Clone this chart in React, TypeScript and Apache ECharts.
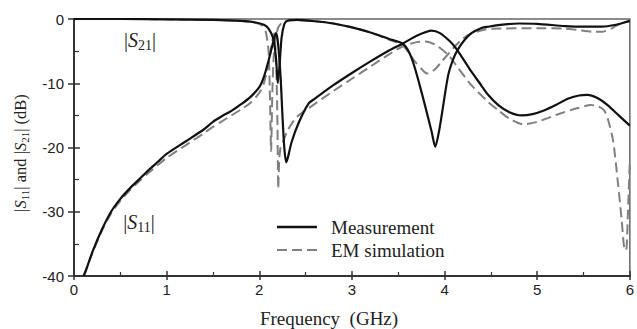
import React, { useEffect, useRef } from "react";
import * as echarts from "echarts";

// Frequency (GHz) and magnitude (dB)
const measS11Freq = [0.1, 0.12, 0.2, 0.3, 0.4, 0.5, 0.6, 0.7, 0.8, 0.9, 1.0, 1.2, 1.4, 1.5, 1.6, 1.7, 1.8, 1.9, 2.0, 2.05, 2.1, 2.15, 2.18, 2.2, 2.23, 2.25, 2.27, 2.29, 2.31, 2.35, 2.43, 2.53, 2.6, 2.8, 3.0, 3.2, 3.4, 3.55, 3.7, 3.86, 3.95, 4.06, 4.12, 4.2, 4.29, 4.38, 4.47, 4.58, 4.7, 4.83, 4.95, 5.08, 5.2, 5.33, 5.45, 5.54, 5.65, 5.76, 5.88, 6.0];
const measS11 = [-40, -39.5, -36.2, -32.8, -30, -28, -26.4, -25, -23.6, -22.3, -21.0, -19.1, -17.2, -16.0, -15.1, -14.3, -13.3, -12.2, -10.6, -9.0, -6.5, -3.6, -2.2, -3.5, -9, -15, -20, -22.3, -21.5, -19.1, -16, -13.2, -12.4, -10.3, -8.4, -6.6, -4.9, -3.8, -2.6, -1.8, -2.2, -3.5, -4.5, -6.2, -8.2, -10, -11.8, -13.4, -14.5, -15.0, -14.8, -14.2, -13.4, -12.4, -11.9, -11.8, -12.3, -13.4, -15, -16.6];

const measS21Freq = [0, 0.5, 1.0, 1.5, 1.8, 1.95, 2.05, 2.1, 2.15, 2.18, 2.2, 2.22, 2.24, 2.27, 2.3, 2.4, 2.6, 2.8, 3.0, 3.2, 3.4, 3.555, 3.645, 3.75, 3.86, 3.9, 3.94, 3.97, 4.04, 4.1, 4.15, 4.22, 4.29, 4.4, 4.47, 4.6, 4.8, 5.0, 5.3, 5.5, 5.7, 5.85, 5.95, 6.0];
const measS21 = [0, 0, -0.05, -0.15, -0.3, -0.5, -0.9, -1.5, -3, -6, -10, -7, -3, -0.8, -0.3, -0.15, -0.35, -0.7, -1.3, -2.1, -3.1, -3.9, -6.1, -11.3, -17.5, -19.9, -17.5, -14.9, -8.7, -6.0, -4.6, -3.2, -2.2, -1.4, -1.2, -0.9, -0.7, -0.75, -1.1, -1.2, -1.2, -0.9, -0.5, -0.3];

const simS11Freq = [0.1, 0.12, 0.2, 0.3, 0.4, 0.5, 0.6, 0.7, 0.8, 0.9, 1.0, 1.2, 1.4, 1.5, 1.6, 1.7, 1.8, 1.9, 2.0, 2.05, 2.1, 2.14, 2.16, 2.18, 2.195, 2.205, 2.215, 2.23, 2.26, 2.3, 2.35, 2.4, 2.53, 2.6, 2.8, 3.0, 3.2, 3.4, 3.555, 3.7, 3.79, 3.9, 4.04, 4.15, 4.29, 4.47, 4.58, 4.7, 4.85, 5.0, 5.25, 5.45, 5.58, 5.66, 5.72, 5.76, 5.82, 5.87, 5.91, 5.94, 5.96, 5.98, 6.0];
const simS11 = [-40, -39.3, -36.4, -33, -30.3, -28.3, -26.7, -25.3, -24, -22.8, -21.6, -19.7, -17.8, -16.8, -15.9, -15.0, -14.1, -13.1, -11.5, -10.0, -7.0, -3.5, -2.2, -6, -15, -26.4, -22, -20, -19, -17.5, -16.3, -15.3, -13.9, -13.2, -11.2, -9.3, -7.4, -5.5, -4.2, -3.6, -3.5, -4.0, -5.6, -7.7, -10.3, -12.9, -14.2, -15.5, -16.4, -16.0, -14.7, -13.8, -13.4, -13.6, -14.2, -15.4, -19, -25.3, -31, -35.7, -36, -30, -22];

const simS21Freq = [0, 0.5, 1.0, 1.5, 1.8, 1.95, 2.03, 2.07, 2.1, 2.115, 2.128, 2.14, 2.16, 2.2, 2.25, 2.35, 2.6, 2.8, 3.0, 3.2, 3.4, 3.555, 3.68, 3.78, 3.82, 3.9, 3.97, 4.11, 4.2, 4.3, 4.5, 5.0, 5.3, 5.43, 5.6, 5.7, 5.8, 5.87, 5.95, 6.0];
const simS21 = [0, 0, -0.05, -0.15, -0.3, -0.6, -1.0, -2.0, -5, -12, -20.6, -12, -5, -1.5, -0.5, -0.2, -0.35, -0.7, -1.3, -2.1, -3.2, -4.2, -6.6, -8.2, -8.5, -7.8, -6.6, -4.3, -3.0, -2.2, -1.5, -1.45, -1.5, -1.7, -2.0, -2.0, -1.5, -0.9, -0.5, -0.3];

const xTicks = { min: 0, max: 6, interval: 1 };
const yTicks = { min: -40, max: 0, interval: 10 };
const legendNames = ["Measurement", "EM simulation"];

const pairs = (xs: number[], ys: number[]) => xs.map((x, i) => [x, ys[i]]);

const SERIF = "'Liberation Serif', 'Times New Roman', serif";
const SANS = "'Liberation Sans', Arial, sans-serif";
const SOLID_COLOR = "#111";
const DASH_COLOR = "#808080";

export default function App() {
  const ref = useRef<HTMLDivElement>(null);
  useEffect(() => {
    if (!ref.current) return;
    const chart = echarts.init(ref.current, null, { renderer: "svg" });
    const grid = { left: 74, top: 19, width: 559, height: 257, show: true, borderColor: "#666", borderWidth: 1.5 };
    const solid = { color: SOLID_COLOR, width: 2.2, type: "solid" as const };
    const dashed = { color: DASH_COLOR, width: 2, type: [10, 5] as any };
    const richLabel = (fs: number) => ({
      b: { fontFamily: SERIF, fontSize: fs, lineHeight: fs + 4, fill: "#222" },
      i: { fontFamily: SERIF, fontSize: fs, fontStyle: "italic", lineHeight: fs + 4, fill: "#222" },
      s: { fontFamily: SERIF, fontSize: Math.round(fs * 0.68), lineHeight: Math.round(fs * 0.62), verticalAlign: "bottom", fill: "#222" },
    });
    chart.setOption({
      animation: false,
      backgroundColor: "#fff",
      grid,
      xAxis: [
        {
          type: "value", position: "bottom", ...xTicks,
          axisLine: { show: true, onZero: false, lineStyle: { color: "#333", width: 2 } },
          axisTick: { show: true, inside: false, length: 4, lineStyle: { color: "#333", width: 1.5 } },
          axisLabel: { fontFamily: SANS, fontSize: 15, color: "#222", margin: 6 },
          splitLine: { show: false },
        },
        {
          type: "value", position: "bottom", ...xTicks,
          axisLine: { show: false, onZero: false },
          axisTick: { show: true, inside: true, length: 5, lineStyle: { color: "#333", width: 1.5 } },
          minorTick: { show: true, splitNumber: 2, length: 4, lineStyle: { color: "#333", width: 1.2 } },
          axisLabel: { show: false },
          splitLine: { show: false },
        },
      ],
      yAxis: [
        {
          type: "value", position: "left", ...yTicks,
          axisLine: { show: true, onZero: false, lineStyle: { color: "#333", width: 2 } },
          axisTick: { show: true, inside: false, length: 6, lineStyle: { color: "#333", width: 1.5 } },
          axisLabel: { fontFamily: SANS, fontSize: 15, color: "#222", margin: 10 },
          splitLine: { show: false },
        },
        {
          type: "value", position: "left", ...yTicks,
          axisLine: { show: false, onZero: false },
          axisTick: { show: true, inside: true, length: 6, lineStyle: { color: "#333", width: 1.5 } },
          minorTick: { show: true, splitNumber: 2, length: 5, lineStyle: { color: "#333", width: 1.2 } },
          axisLabel: { show: false },
          splitLine: { show: false },
        },
      ],
      series: [
        { name: legendNames[1], type: "line", data: pairs(simS11Freq, simS11), symbol: "none", smooth: 0.25, lineStyle: dashed, itemStyle: { color: DASH_COLOR } },
        { name: legendNames[1], type: "line", data: pairs(simS21Freq, simS21), symbol: "none", smooth: 0.25, lineStyle: dashed, itemStyle: { color: DASH_COLOR } },
        { name: legendNames[0], type: "line", data: pairs(measS11Freq, measS11), symbol: "none", smooth: 0.25, lineStyle: solid, itemStyle: { color: SOLID_COLOR } },
        { name: legendNames[0], type: "line", data: pairs(measS21Freq, measS21), symbol: "none", smooth: 0.25, lineStyle: solid, itemStyle: { color: SOLID_COLOR } },
      ],
      graphic: [
        // legend
        { type: "line", shape: { x1: 277, y1: 227, x2: 317, y2: 227 }, style: { stroke: SOLID_COLOR, lineWidth: 2.5 } },
        { type: "line", shape: { x1: 277, y1: 250, x2: 317, y2: 250 }, style: { stroke: DASH_COLOR, lineWidth: 2, lineDash: [10, 5] } },
        { type: "text", x: 331, y: 227, style: { text: legendNames[0], fontFamily: SERIF, fontSize: 19, fill: "#222", align: "left", verticalAlign: "middle" } },
        { type: "text", x: 331, y: 250, style: { text: legendNames[1], fontFamily: SERIF, fontSize: 19, fill: "#222", align: "left", verticalAlign: "middle" } },
        // axis titles
        {
          type: "text", x: 20, y: 153, rotation: Math.PI / 2,
          style: {
            text: "{b||}{i|S}{s|11}{b||} and {b||}{i|S}{s|21}{b||} (dB)",
            rich: richLabel(16.5),
            fontFamily: SERIF, fontSize: 16.5, fill: "#222", align: "center", verticalAlign: "middle",
          },
        },
        {
          type: "text", x: 329, y: 318,
          style: { text: "Frequency  (GHz)", fontFamily: SERIF, fontSize: 19, fill: "#222", align: "center", verticalAlign: "middle" },
        },
        // curve annotations
        {
          type: "text", x: 140, y: 40,
          style: { text: "{b||}{i|S}{s|21}{b||}", rich: richLabel(20), align: "center", verticalAlign: "middle" },
        },
        {
          type: "text", x: 139, y: 222,
          style: { text: "{b||}{i|S}{s|11}{b||}", rich: richLabel(20), align: "center", verticalAlign: "middle" },
        },
      ],
    });
    return () => chart.dispose();
  }, []);
  return <div ref={ref} style={{ position: "fixed", left: 0, top: 0, width: 637, height: 329 }} />;
}
